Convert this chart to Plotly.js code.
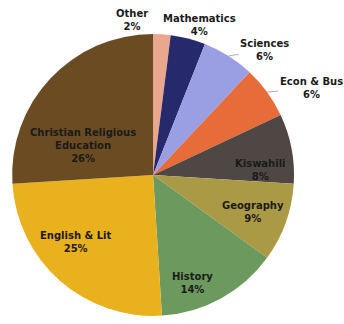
<!DOCTYPE html>
<html>
<head>
<meta charset="utf-8">
<script src="https://cdn.plot.ly/plotly-3.0.1.min.js"></script>
<style>html,body{margin:0;padding:0;background:#fff}#chart{width:344px;height:324px}</style>
</head>
<body>
<div id="chart"></div>
<script>
const categories = ["Other", "Mathematics", "Sciences", "Econ & Bus", "Kiswahili", "Geography", "History", "English & Lit", "Christian Religious<br>Education"];
const shares = [2, 4, 6, 6, 8, 9, 14, 25, 26];
const colors = ["#E9A88E", "#262A6C", "#9A9EE2", "#E86C3A", "#4F4744", "#AB9A45", "#6C9A5E", "#EAB11E", "#6B4C22"];

const W = 344, H = 324;
const dom = {x: [0.035, 0.855], y: [0.025, 0.895]};
const font = {family: "DejaVu Sans", size: 10, color: "#1a1a1a", weight: "bold"};

const trace = {
  type: "pie",
  labels: categories,
  values: shares,
  sort: false,
  direction: "clockwise",
  rotation: 0,
  marker: {colors: colors, line: {width: 0}},
  textinfo: "none",
  domain: dom,
  hoverinfo: "none"
};

// pie geometry (as plotly computes it: radius = half the smaller domain side)
const pw = (dom.x[1] - dom.x[0]) * W, ph = (dom.y[1] - dom.y[0]) * H;
const R = Math.min(pw, ph) / 2;
const cxPx = (dom.x[0] + dom.x[1]) / 2 * W;
const cyPx = (dom.y[0] + dom.y[1]) / 2 * H; // measured from bottom
const total = shares.reduce((a, b) => a + b, 0);
let cum = 0;
const midAngle = shares.map(v => { const m = (cum + v / 2) / total * 2 * Math.PI; cum += v; return m; });

// label placement style: radius factor along the slice's mid angle, plus pixel nudges
const labelStyle = [
  {k: 1.1, dx: -13, dy: 0, xanchor: "right"},          // Other
  {k: 1.1, dx: 8, dy: 0},                               // Mathematics
  {k: 1.0, arrow: true, ax: 36, ay: -6},                // Sciences
  {k: 1.0, arrow: true, ax: 44, ay: -4},                // Econ & Bus
  {k: 0.65, dx: 17, dy: 12},                            // Kiswahili
  {k: 0.65, dx: 14, dy: 6},                             // Geography
  {k: 0.65, dx: -5, dy: 28},                            // History
  {k: 0.65, dx: -16, dy: -2},                           // English & Lit
  {k: 0.65, dx: -3, dy: 33}                             // CRE
];

const annotations = categories.map((c, i) => {
  const s = labelStyle[i];
  const a0 = midAngle[i];
  const x = (cxPx + s.k * R * Math.sin(a0)) / W;
  const y = (cyPx + s.k * R * Math.cos(a0)) / H;
  const ann = {
    xref: "paper", yref: "paper", x: x, y: y,
    text: c + "<br>" + Math.round(shares[i] / total * 100) + "%",
    font: font, align: "center", showarrow: !!s.arrow
  };
  if (s.arrow) {
    Object.assign(ann, {ax: s.ax, ay: s.ay, arrowhead: 0, arrowwidth: 1, arrowcolor: "#b0b0b0", standoff: 0});
  } else {
    Object.assign(ann, {xanchor: s.xanchor || "center", yanchor: "middle", xshift: s.dx, yshift: -s.dy});
  }
  return ann;
});

Plotly.newPlot("chart", [trace], {
  width: W, height: H,
  margin: {l: 0, r: 0, t: 0, b: 0},
  showlegend: false,
  paper_bgcolor: "#ffffff",
  annotations: annotations
}, {displayModeBar: false, staticPlot: true});
</script>
</body>
</html>
